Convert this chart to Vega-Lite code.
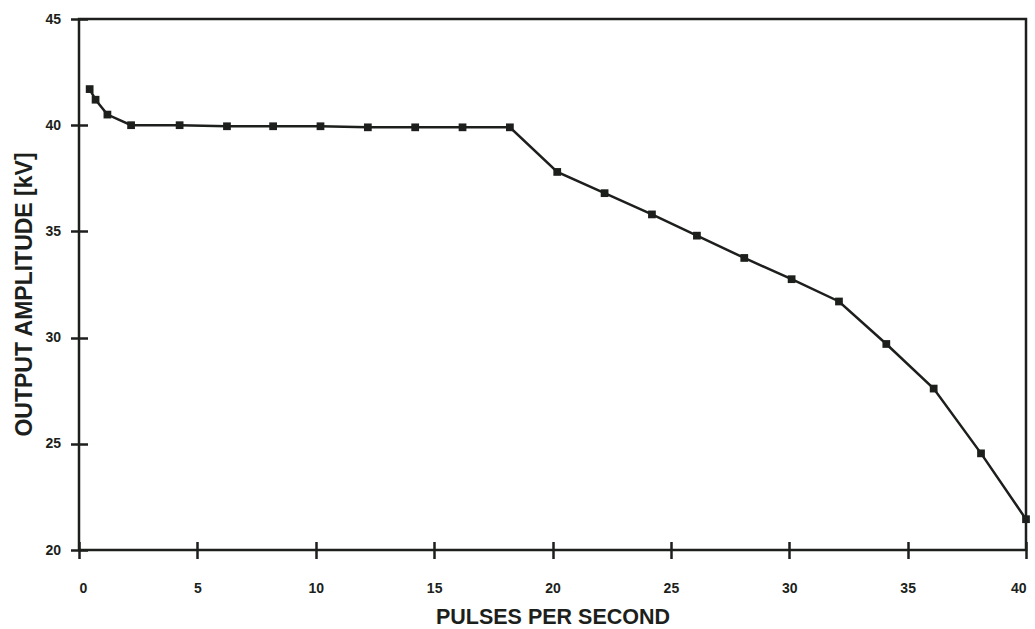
{
  "$schema": "https://vega.github.io/schema/vega-lite/v6.json",
  "width": 947,
  "height": 531,
  "autosize": {"type": "none"},
  "padding": {"left": 79, "top": 19, "right": 9, "bottom": 79},
  "background": "white",
  "config": {
    "view": {"stroke": "#1c1f1c", "strokeWidth": 2.5},
    "font": "Liberation Sans",
    "axis": {
      "grid": false,
      "domain": false,
      "ticks": true,
      "tickColor": "#1c1f1c",
      "tickWidth": 2.5,
      "tickSize": 17,
      "offset": -8.5,
      "labelFont": "Liberation Sans",
      "labelFontWeight": "bold",
      "labelColor": "#1c1f1c",
      "titleFont": "Liberation Sans",
      "titleFontWeight": "bold",
      "titleColor": "#1c1f1c"
    }
  },
  "data": {
    "values": [
      {"pps": 0.45, "kv": 41.7},
      {"pps": 0.7, "kv": 41.2},
      {"pps": 1.2, "kv": 40.5},
      {"pps": 2.2, "kv": 40.0},
      {"pps": 4.25, "kv": 40.0},
      {"pps": 6.25, "kv": 39.95},
      {"pps": 8.2, "kv": 39.95},
      {"pps": 10.2, "kv": 39.95},
      {"pps": 12.2, "kv": 39.9},
      {"pps": 14.2, "kv": 39.9},
      {"pps": 16.2, "kv": 39.9},
      {"pps": 18.2, "kv": 39.9},
      {"pps": 20.2, "kv": 37.8},
      {"pps": 22.2, "kv": 36.8},
      {"pps": 24.2, "kv": 35.8},
      {"pps": 26.1, "kv": 34.8},
      {"pps": 28.1, "kv": 33.75},
      {"pps": 30.1, "kv": 32.75},
      {"pps": 32.1, "kv": 31.7},
      {"pps": 34.1, "kv": 29.7},
      {"pps": 36.1, "kv": 27.6},
      {"pps": 38.1, "kv": 24.55},
      {"pps": 40.0, "kv": 21.45}
    ]
  },
  "encoding": {
    "x": {
      "field": "pps",
      "type": "quantitative",
      "scale": {"domain": [0, 40], "nice": false, "zero": false},
      "axis": {
        "title": "PULSES PER SECOND",
        "values": [0, 5, 10, 15, 20, 25, 30, 35, 40],
        "labelFontSize": 14,
        "labelPadding": 23,
        "titleFontSize": 21.5,
        "titleY": 82,
        "titleBaseline": "alphabetic"
      }
    },
    "y": {
      "field": "kv",
      "type": "quantitative",
      "scale": {"domain": [20, 45], "nice": false, "zero": false},
      "axis": {
        "title": "OUTPUT AMPLITUDE [kV]",
        "values": [20, 25, 30, 35, 40, 45],
        "labelFontSize": 14,
        "labelPadding": 10,
        "titleFontSize": 23,
        "titleX": -56,
        "titleY": 275,
        "titleBaseline": "alphabetic"
      }
    }
  },
  "layer": [
    {"mark": {"type": "line", "color": "#1c1f1c", "strokeWidth": 2.5}},
    {"mark": {"type": "point", "shape": "square", "filled": true, "size": 60, "color": "#1c1f1c", "opacity": 1}}
  ]
}
